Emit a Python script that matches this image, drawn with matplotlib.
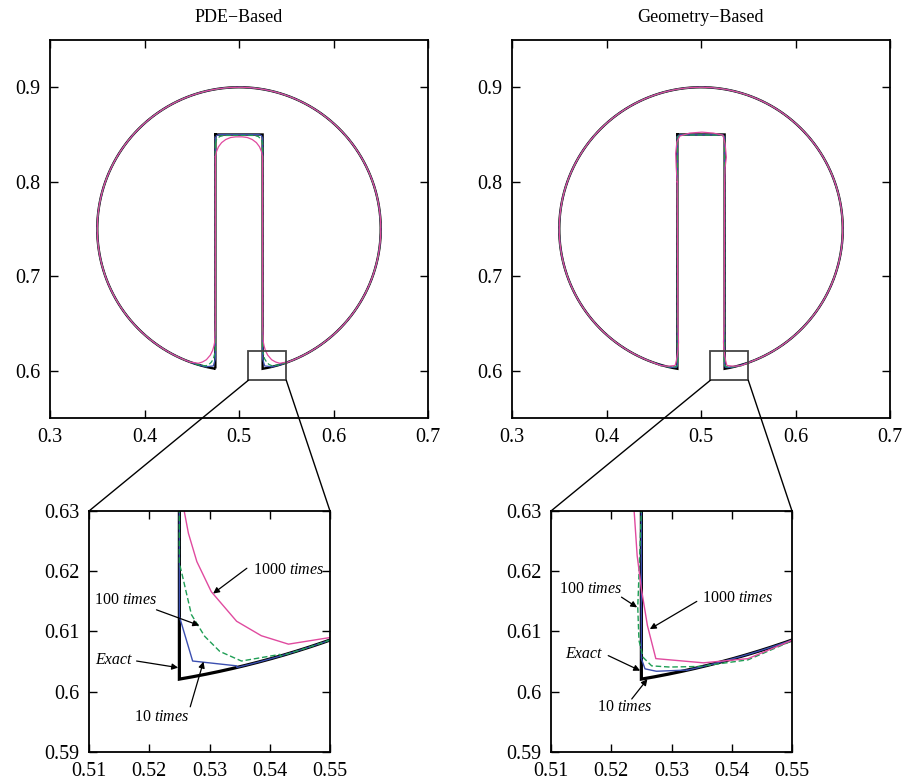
import numpy as np
import matplotlib
matplotlib.use('Agg')
import matplotlib.pyplot as plt
from matplotlib.patches import Rectangle, ConnectionPatch

plt.rcParams['font.family'] = ['Liberation Serif', 'DejaVu Serif']
plt.rcParams['mathtext.fontset'] = 'custom'
plt.rcParams['mathtext.rm'] = 'Liberation Serif'
plt.rcParams['mathtext.it'] = 'Liberation Serif:italic'

# ---------------- data ----------------
disk_center = (0.5, 0.75)
disk_radius = 0.15
slot_half_width = 0.025
slot_top = 0.85

titles = ['PDE\u2212Based', 'Geometry\u2212Based']

top_xticks = [0.3, 0.4, 0.5, 0.6, 0.7]
top_xlabels = ['0.3', '0.4', '0.5', '0.6', '0.7']
top_yticks = [0.6, 0.7, 0.8, 0.9]
top_ylabels = ['0.6', '0.7', '0.8', '0.9']
zoom_xticks = [0.51, 0.52, 0.53, 0.54, 0.55]
zoom_xlabels = ['0.51', '0.52', '0.53', '0.54', '0.55']
zoom_yticks = [0.59, 0.60, 0.61, 0.62, 0.63]
zoom_ylabels = ['0.59', '0.6', '0.61', '0.62', '0.63']
zoom_box = (0.51, 0.59, 0.55, 0.621)

# PDE-based: slot top (left -> right) and lower-right slot corner (wall -> circle)
pde_10_top = [(0.475, 0.846), (0.4762, 0.8488), (0.479, 0.850), (0.521, 0.850),
              (0.5238, 0.8488), (0.525, 0.846)]
pde_10_corner = [(0.525, 0.63), (0.525, 0.6125), (0.5272, 0.6051), (0.5345, 0.6043)]
pde_100_top = [(0.475, 0.840), (0.4762, 0.8445), (0.4795, 0.8478), (0.484, 0.849),
               (0.516, 0.849), (0.5205, 0.8478), (0.5238, 0.8445), (0.525, 0.840)]
pde_100_corner = [(0.525, 0.63), (0.525, 0.6213), (0.5254, 0.6197), (0.5270, 0.6128),
                  (0.5292, 0.6092), (0.5317, 0.6067), (0.5353, 0.6051), (0.5417, 0.6062)]
pde_1000_top = [(0.475, 0.8265), (0.4762, 0.8319), (0.4783, 0.8370), (0.4816, 0.8414),
                (0.4860, 0.8447), (0.4911, 0.8468), (0.4965, 0.8475), (0.5035, 0.8475),
                (0.5089, 0.8468), (0.5140, 0.8447), (0.5184, 0.8414), (0.5217, 0.8370),
                (0.5238, 0.8319), (0.525, 0.8265)]
pde_1000_corner = [(0.5251, 0.648), (0.5256, 0.636), (0.5258, 0.63), (0.5265, 0.6263),
                   (0.5279, 0.6216), (0.5303, 0.6166), (0.5345, 0.6117), (0.5386, 0.6093),
                   (0.5431, 0.6079), (0.5500, 0.6090)]

# Geometry-based
geo_10_top = [(0.475, 0.847), (0.4762, 0.8492), (0.478, 0.8498), (0.522, 0.8498),
              (0.5238, 0.8492), (0.525, 0.847)]
geo_10_corner = [(0.525, 0.63), (0.525, 0.6055), (0.5256, 0.6038), (0.5275, 0.6034),
                 (0.5325, 0.6036)]
geo_100_top = [(0.475, 0.845), (0.4758, 0.848), (0.4785, 0.8494), (0.5215, 0.8494),
               (0.5242, 0.848), (0.525, 0.845)]
geo_100_corner = [(0.525, 0.63), (0.5248, 0.625), (0.5244, 0.6140), (0.5246, 0.6085),
                  (0.5253, 0.6057), (0.5267, 0.6043), (0.5297, 0.6041), (0.5347, 0.6042),
                  (0.5427, 0.6053), (0.5499, 0.6084)]
geo_1000_top = [(0.4748, 0.80), (0.4738, 0.815), (0.4732, 0.830), (0.4745, 0.842),
                (0.4775, 0.8483), (0.488, 0.8515), (0.501, 0.8525), (0.513, 0.8515),
                (0.5232, 0.8493), (0.5255, 0.8400), (0.5268, 0.8260), (0.5255, 0.8150),
                (0.5250, 0.80)]
geo_1000_corner = [(0.5245, 0.65), (0.5238, 0.63), (0.5243, 0.6226), (0.5250, 0.6171),
                   (0.5260, 0.6110), (0.5274, 0.6055), (0.5353, 0.6048), (0.5427, 0.6055),
                   (0.5499, 0.6085)]

# annotations: (label, text xy, arrow tail, arrow head)
pde_notes = [('1000 $\\mathit{times}$', (0.5372, 0.6202), (0.5362, 0.6205), (0.5306, 0.6163), 'left'),
             ('100 $\\mathit{times}$', (0.5161, 0.6152), (0.5212, 0.6136), (0.5283, 0.6110), 'center'),
             ('Exact', (0.5141, 0.6053), (0.5179, 0.6051), (0.5248, 0.6040), 'center'),
             ('10 $\\mathit{times}$', (0.5220, 0.5958), (0.5268, 0.5975), (0.5290, 0.6050), 'center')]
geo_notes = [('100 $\\mathit{times}$', (0.5166, 0.6171), (0.5217, 0.6157), (0.5243, 0.6140), 'center'),
             ('1000 $\\mathit{times}$', (0.5409, 0.6156), (0.5342, 0.6150), (0.5264, 0.6104), 'center'),
             ('Exact', (0.5154, 0.6063), (0.5195, 0.6060), (0.5248, 0.6035), 'center'),
             ('10 $\\mathit{times}$', (0.5223, 0.5974), (0.5234, 0.5988), (0.5260, 0.6021), 'center')]

colors = {'exact': 'black', '10': '#3b4fb0', '100': '#1f9e55', '1000': '#e04a9f'}

# ---------------- helpers ----------------
cx, cy = disk_center


def build_shape(top_pts, corner_pts):
    top = np.array(top_pts, float)
    corner = np.array(corner_pts, float)
    xe, ye = corner[-1]
    th_r = np.arctan2(ye - cy, xe - cx)
    th_l = np.pi - th_r
    th = np.linspace(th_r, th_l, 800)
    arc = np.column_stack([cx + disk_radius * np.cos(th), cy + disk_radius * np.sin(th)])
    mirror = corner[::-1].copy()
    mirror[:, 0] = 2 * cx - mirror[:, 0]
    return np.vstack([top, corner, arc, mirror, top[:1]])


y_corner = cy - np.sqrt(disk_radius ** 2 - slot_half_width ** 2)
exact_top = [(cx - slot_half_width, slot_top), (cx + slot_half_width, slot_top)]
exact_corner = [(cx + slot_half_width, y_corner)]
exact_shape = build_shape(exact_top, exact_corner)

panels = [
    dict(shapes=[build_shape(pde_10_top, pde_10_corner),
                 build_shape(pde_100_top, pde_100_corner),
                 build_shape(pde_1000_top, pde_1000_corner)], notes=pde_notes),
    dict(shapes=[build_shape(geo_10_top, geo_10_corner),
                 build_shape(geo_100_top, geo_100_corner),
                 build_shape(geo_1000_top, geo_1000_corner)], notes=geo_notes),
]

W, H = 902, 784
fig = plt.figure(figsize=(W / 100, H / 100), dpi=100)

top_lefts = [50, 512]
zoom_lefts = [89, 551]
tick_fs = 14.5


def style_axes(ax, pad):
    ax.tick_params(direction='in', top=True, right=True, length=6, width=1.0,
                   labelsize=tick_fs, pad=pad)
    for s in ax.spines.values():
        s.set_linewidth(1.3)


for i, p in enumerate(panels):
    axt = fig.add_axes([top_lefts[i] / W, 1 - 418 / H, 378 / W, 378 / H])
    axz = fig.add_axes([zoom_lefts[i] / W, 1 - 752 / H, 241 / W, 241 / H])
    for ax, lwe, lws in [(axt, 1.7, 0.9), (axz, 2.3, 1.0)]:
        ax.plot(exact_shape[:, 0], exact_shape[:, 1], color=colors['exact'], lw=lwe,
                solid_joinstyle='miter')
        s10, s100, s1000 = p['shapes']
        ax.plot(s10[:, 0], s10[:, 1], color=colors['10'], lw=lws)
        ax.plot(s100[:, 0], s100[:, 1], color=colors['100'], lw=lws, ls=(0, (4, 2)))
        ax.plot(s1000[:, 0], s1000[:, 1], color=colors['1000'], lw=lws)

    axt.set_xlim(0.3, 0.7)
    axt.set_ylim(0.55, 0.95)
    axt.set_xticks(top_xticks)
    axt.set_xticklabels(top_xlabels)
    axt.set_yticks(top_yticks)
    axt.set_yticklabels(top_ylabels)
    style_axes(axt, 7)
    axt.set_title(titles[i], fontsize=13, pad=13)

    x0, y0, x1, y1 = zoom_box
    axt.add_patch(Rectangle((x0, y0), x1 - x0, y1 - y0, fill=False, ec='#444444', lw=1.3, zorder=5))

    axz.set_xlim(0.51, 0.55)
    axz.set_ylim(0.59, 0.63)
    axz.set_xticks(zoom_xticks)
    axz.set_xticklabels(zoom_xlabels)
    axz.set_yticks(zoom_yticks)
    axz.set_yticklabels(zoom_ylabels)
    style_axes(axz, 7)

    for xa, xb in [(x0, 0.51), (x1, 0.55)]:
        con = ConnectionPatch(xyA=(xa, y0), coordsA=axt.transData,
                              xyB=(xb, 0.63), coordsB=axz.transData,
                              color='black', lw=1.0)
        fig.add_artist(con)

    for label, txy, tail, head, ha in p['notes']:
        style = 'italic' if label == 'Exact' else 'normal'
        axz.text(txy[0], txy[1], label, fontsize=11.5, ha=ha, va='center', fontstyle=style)
        axz.annotate('', xy=head, xytext=tail,
                     arrowprops=dict(arrowstyle='-|>', color='black', lw=0.9,
                                     mutation_scale=9, shrinkA=0, shrinkB=0))

fig.savefig('out.png', dpi=100)
